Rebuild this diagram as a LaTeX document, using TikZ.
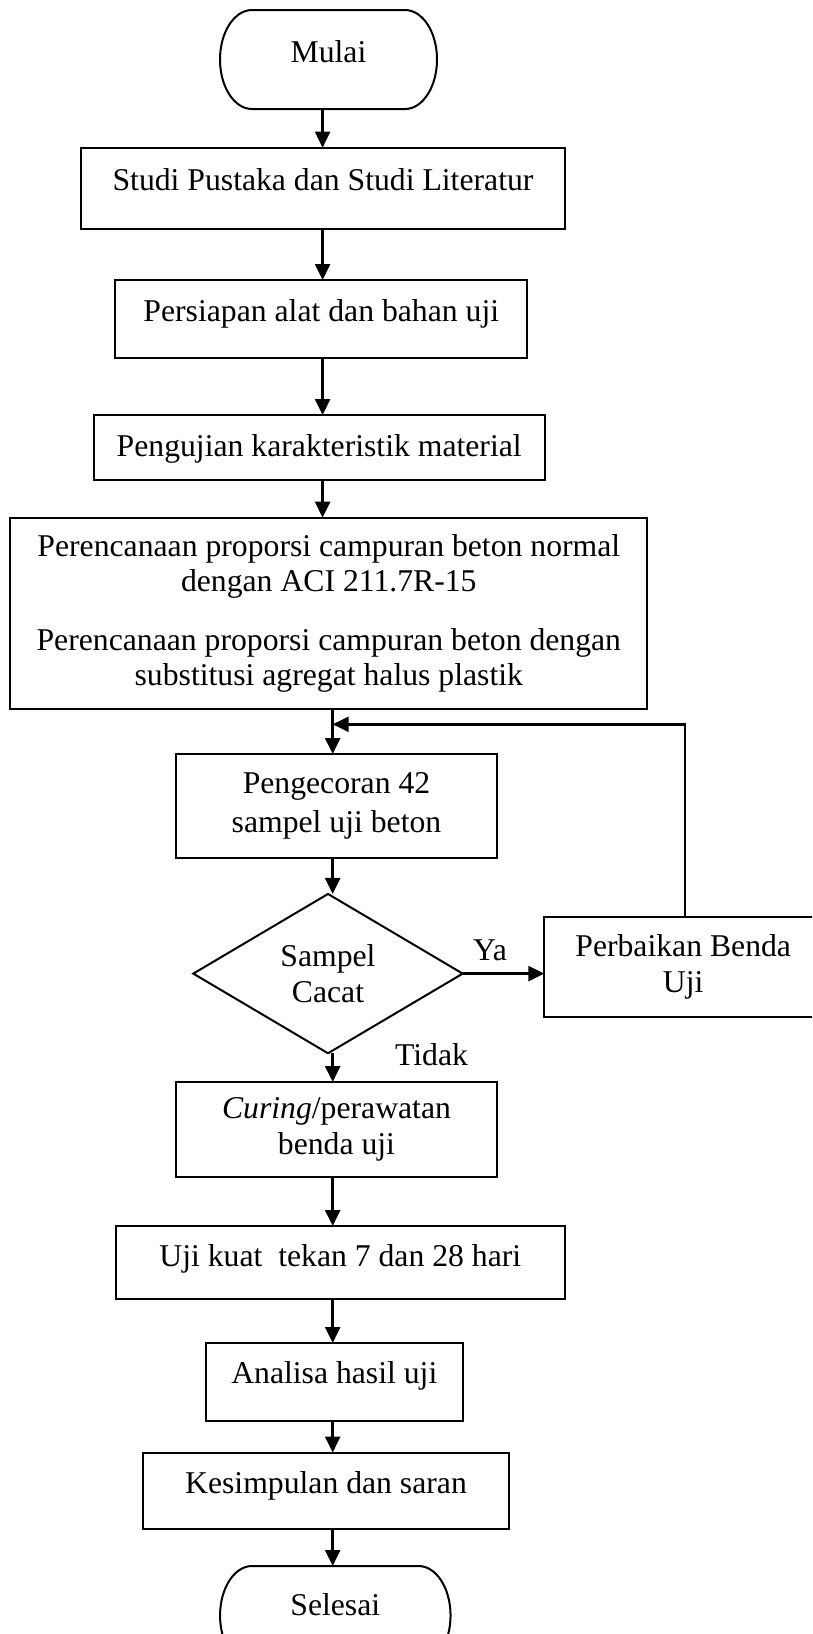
\documentclass[tikz,border=0pt]{standalone}
\usepackage{fontspec}
\setmainfont{Liberation Serif}
\usetikzlibrary{arrows.meta,shapes.geometric}
\begin{document}
\begin{tikzpicture}[x=1pt,y=-1pt,
  fs/.style={font=\fontsize{31.7}{35.5}\selectfont},
  bx/.style={draw, line width=2pt, rectangle, inner sep=0pt, outer sep=0pt, align=center, fs},
  term/.style={inner sep=0pt, outer sep=0pt, align=center, fs},
  tx/.style={text height=22pt, text depth=#1},
  arr/.style={line width=2.5pt, -{Triangle[length=16pt,width=15pt]}},
  lbl/.style={anchor=base, inner sep=0pt, fs},
  edge/.style={line width=2pt}]

\path[use as bounding box] (0,0) rectangle (812,1634);
\fill[white] (0,0) rectangle (812,1634);
\clip (0,0) rectangle (812,1634);

% nodes
\node[term, tx=17pt, minimum width=217pt, minimum height=99pt] (mulai) at (328.5,59.5) {Mulai};
\draw[edge] ([xshift=32pt]mulai.north west) -- ([xshift=-32pt]mulai.north east)
  arc[start angle=90, end angle=-90, x radius=32pt, y radius=49.5pt]
  -- ([xshift=32pt]mulai.south west)
  arc[start angle=270, end angle=90, x radius=32pt, y radius=49.5pt] -- cycle;

\node[bx, tx=18pt, minimum width=483.2pt, minimum height=81pt] (studi) at (323,188.2) {Studi Pustaka dan Studi Literatur};
\node[bx, tx=16.6pt, minimum width=411.7pt, minimum height=78pt] (persiapan) at (321.3,319) {Persiapan alat dan bahan uji};
\node[bx, tx=4pt, minimum width=451pt, minimum height=65pt] (pengujian) at (319.2,447.5) {Pengujian karakteristik material};
\node[bx, minimum width=636.8pt, minimum height=191.3pt] (rencana) at (328.8,613.3)
  {Perencanaan proporsi campuran beton normal\\dengan ACI 211.7R-15\\[23pt]Perencanaan proporsi campuran beton dengan\\substitusi agregat halus plastik};
\node[bx, minimum width=321pt, minimum height=104pt] (cor) at (336.5,806) {Pengecoran 42\\[3pt]sampel uji beton};
\node[draw, diamond, line width=2pt, inner sep=0pt, outer sep=0pt, align=center, fs,
  minimum width=269.4pt, minimum height=159.3pt] (cek) at (328,973.6) {Sampel\\Cacat};
\node[bx, minimum width=277.7pt, minimum height=100.6pt] (perbaikan) at (683.2,967) {Perbaikan Benda\\Uji};
\node[bx, minimum width=321pt, minimum height=95pt] (curing) at (336.5,1129.5) {\textit{Curing}/perawatan\\benda uji};
\node[bx, tx=14pt, minimum width=448.5pt, minimum height=73pt] (uji) at (340.3,1262.5) {Uji kuat\ \ tekan 7 dan 28 hari};
\node[bx, tx=20pt, minimum width=256.5pt, minimum height=78pt] (analisa) at (334.3,1382) {Analisa hasil uji};
\node[bx, tx=17pt, minimum width=366pt, minimum height=76pt] (simpul) at (326,1490.5) {Kesimpulan dan saran};

\node[term, tx=22pt, minimum width=230.5pt, minimum height=99pt] (selesai) at (335.3,1615.5) {Selesai};
\draw[edge] ([xshift=32pt]selesai.north west) -- ([xshift=-32pt]selesai.north east)
  arc[start angle=90, end angle=-90, x radius=32pt, y radius=49.5pt]
  -- ([xshift=32pt]selesai.south west)
  arc[start angle=270, end angle=90, x radius=32pt, y radius=49.5pt] -- cycle;

\node[lbl] (ya) at (490,960) {Ya};
\node[lbl] (tidak) at (431.5,1065) {Tidak};

% helper coordinates
\coordinate (xa) at (322.6,0);
\coordinate (xb) at (332.7,0);
\coordinate (xf) at (685,0);
\coordinate (join) at (332.7,724.3);

% connectors
\draw[arr] (mulai.south -| xa) -- (studi.north -| xa);
\draw[arr] (studi.south -| xa) -- (persiapan.north -| xa);
\draw[arr] (persiapan.south -| xa) -- (pengujian.north -| xa);
\draw[arr] (pengujian.south -| xa) -- (rencana.north -| xa);
\draw[arr] (rencana.south -| xb) -- (cor.north -| xb);
\draw[arr] (cor.south -| xb) -- (cek.north -| xb);
\draw[arr] (cek.east) -- (cek.east -| perbaikan.west);
\draw[arr] (perbaikan.north -| xf) |- (join);
\draw[arr] (cek.south -| xb) -- (curing.north -| xb);
\draw[arr] (curing.south -| xb) -- (uji.north -| xb);
\draw[arr] (uji.south -| xb) -- (analisa.north -| xb);
\draw[arr] (analisa.south -| xb) -- (simpul.north -| xb);
\draw[arr] (simpul.south -| xb) -- (selesai.north -| xb);
\end{tikzpicture}
\end{document}
